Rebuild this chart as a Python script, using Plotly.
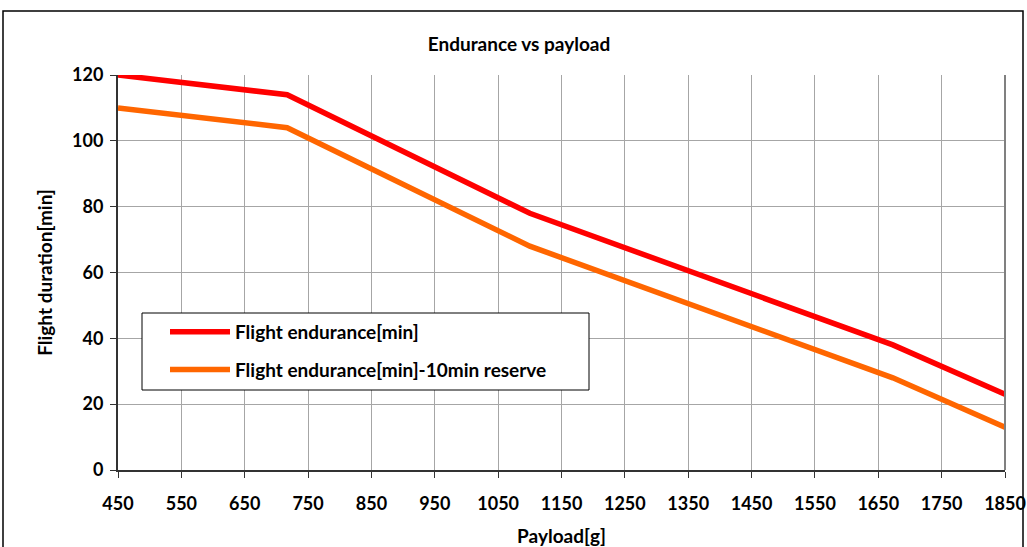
import plotly.graph_objects as go

payload = [450, 717, 1100, 1673, 1850]
endurance = [120, 114, 78, 38, 23]
endurance_reserve = [110, 104, 68, 28, 13]
x_ticks = list(range(450, 1851, 100))
y_ticks = list(range(0, 121, 20))

FONT = "Lato, 'Open Sans', sans-serif"

fig = go.Figure()
fig.add_trace(go.Scatter(x=payload, y=endurance, mode="lines",
                         name="<b>Flight endurance[min]</b>", legendgroup="a",
                         line=dict(color="#FF0000", width=5.5)))
fig.add_trace(go.Scatter(x=payload, y=endurance_reserve, mode="lines",
                         name="<b>Flight endurance[min]-10min reserve</b>", legendgroup="b",
                         line=dict(color="#FF6600", width=5.5)))

fig.update_layout(
    width=1027, height=547,
    margin=dict(l=118, r=22, t=75, b=77),
    paper_bgcolor="white", plot_bgcolor="white",
    font=dict(family=FONT, color="black"),
    title=dict(text="<b>Endurance vs payload</b>", x=519 / 1027, xref="container", xanchor="center",
               y=1 - 44 / 547, yref="container", yanchor="middle", font=dict(size=19, family=FONT)),
    showlegend=True,
    legend=dict(x=(165 - 118) / 887, y=(470 - 313) / 395, xanchor="left", yanchor="top",
                borderwidth=0, bgcolor="rgba(0,0,0,0)",
                font=dict(size=19, family=FONT), traceorder="grouped",
                tracegroupgap=10, itemwidth=60),
    xaxis=dict(range=[450, 1850], tickvals=x_ticks, ticktext=[f"<b>{v}</b>" for v in x_ticks],
               showgrid=True, gridcolor="#A6A6A6", gridwidth=1,
               showline=True, linecolor="#333333", linewidth=2, mirror=False,
               ticks="outside", ticklen=6, tickcolor="#333333",
               tickfont=dict(size=18, family=FONT), automargin=False,
               ticklabelstandoff=10,
               title=dict(text="<b>Payload[g]</b>", font=dict(size=19, family=FONT), standoff=18),
               zeroline=False),
    yaxis=dict(range=[0, 120], tickvals=y_ticks, ticktext=[f"<b>{v}</b>" for v in y_ticks],
               showgrid=True, gridcolor="#A6A6A6", gridwidth=1,
               showline=True, linecolor="#333333", linewidth=2,
               ticks="outside", ticklen=6, tickcolor="#333333",
               tickfont=dict(size=18, family=FONT), automargin=False,
               ticklabelstandoff=3,
               title=dict(text="<b>Flight duration[min]</b>", font=dict(size=19, family=FONT), standoff=14),
               zeroline=False),
    shapes=[
        dict(type="rect", xref="paper", yref="paper",
             x0=(3 - 118) / 887, x1=(1023 - 118) / 887,
             y0=(470 - 560) / 395, y1=(470 - 11) / 395,
             line=dict(color="black", width=1.5), fillcolor="rgba(0,0,0,0)", layer="below"),
        dict(type="line", xref="paper", yref="paper", x0=1, x1=1, y0=0, y1=1,
             line=dict(color="#808080", width=2)),
        dict(type="rect", xref="paper", yref="paper",
             x0=(142 - 118) / 887, x1=(589 - 118) / 887,
             y0=(470 - 390) / 395, y1=(470 - 313) / 395,
             line=dict(color="black", width=1), fillcolor="white", layer="above"),
    ],
)

fig.write_html("out.html")
